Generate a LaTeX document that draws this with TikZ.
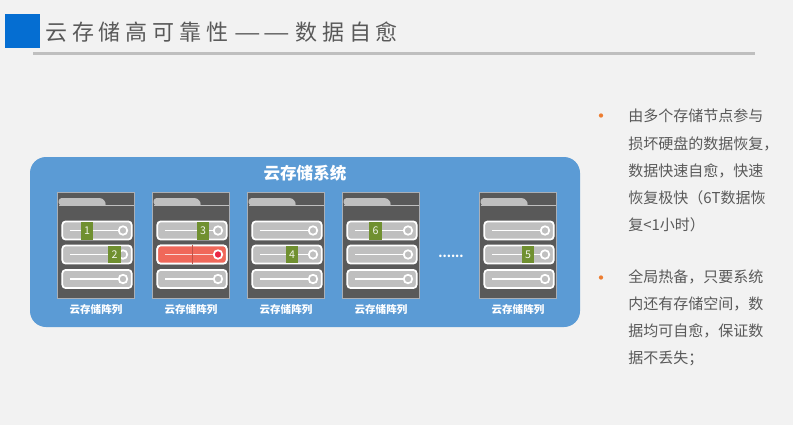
\documentclass[tikz,border=0pt]{standalone}
\usepackage{fontspec}
\usepackage{xcolor}
\setmainfont{Noto Sans CJK SC}
\usetikzlibrary{calc}
\definecolor{pagebg} {RGB}{242,242,242}
\definecolor{headblue}{RGB}{5,110,210}
\definecolor{rulegray}{RGB}{191,191,191}
\definecolor{sysblue} {RGB}{91,155,213}
\definecolor{bodydark}{RGB}{89,89,89}
\definecolor{rimgray} {RGB}{170,175,182}
\definecolor{slotgray}{RGB}{191,191,191}
\definecolor{badgegrn}{RGB}{112,144,48}
\definecolor{slotred} {RGB}{240,104,90}
\definecolor{ringred} {RGB}{235,40,70}
\definecolor{dotorng} {RGB}{237,125,49}
\definecolor{txtgray} {RGB}{89,89,89}
\newcommand{\cnc}{\symbol{"FF0C}}
\newcommand{\cnl}{\symbol{"FF08}}
\newcommand{\cnr}{\symbol{"FF09}}
\newcommand{\cns}{\symbol{"FF1B}}
\tikzset{
  arraybox/.style={draw=rimgray, fill=bodydark, line width=1.2pt, inner sep=0pt,
                   minimum width=57.5pt, minimum height=79.5pt},
  slotbox/.style={draw=white, fill=slotgray, line width=1.3pt, rounded corners=2.5pt,
                  inner sep=0pt, minimum width=52pt, minimum height=13.6pt},
  ringnode/.style={circle, draw=white, fill=slotgray, line width=1.3pt,
                   inner sep=0pt, minimum size=6.4pt},
  badge/.style={fill=badgegrn, text=white!90!badgegrn, inner sep=0pt,
                minimum width=9.4pt, minimum height=13.2pt, font=\fontsize{8}{8}\selectfont},
  arraylabel/.style={text=white, inner sep=0pt, font=\fontsize{7.9}{8}\selectfont\bfseries},
  bodytext/.style={text=txtgray, anchor=north west, align=left, inner sep=0pt,
                   font=\fontsize{11.25}{20.3}\selectfont},
  bulletdot/.style={circle, fill=dotorng, inner sep=0pt, minimum size=3.2pt},
}
\begin{document}
\begin{tikzpicture}[x=0.75pt, y=-0.75pt]
  \useasboundingbox (0,0) rectangle (793,425);
  \fill[pagebg] (0,0) rectangle (793,425);

  % header
  \node[fill=headblue, inner sep=0pt, minimum width=26.3pt, minimum height=25.5pt]
    (headsquare) at (22.5,31) {};
  \node[anchor=west, inner sep=0pt, text=txtgray] (headtitle) at (45,32)
    {\fontsize{16.5}{18}\selectfont\addfontfeature{LetterSpace=22}云存储高可靠性\hspace{5pt}\scalebox{1.35}[1]{—}\hspace{1.5pt}\scalebox{1.35}[1]{—}\hspace{4pt}数据自愈};
  \coordinate (rulestart) at (33,53.5);
  \coordinate (ruleend) at (755,53.5);
  \draw[rulegray, line width=1.6pt] (rulestart) -- (ruleend);

  % system panel
  \node[fill=sysblue, rounded corners=12pt, inner sep=0pt,
        minimum width=412.5pt, minimum height=127.5pt] (syspanel) at (305,242) {};
  \node[text=white, inner sep=0pt, font=\fontsize{12.4}{14}\selectfont\bfseries]
    (systitle) at (305,173) {云存储系统};

  % arrays
  \foreach \ax/\an in {57/a, 152/b, 247/c, 342/d, 479/e} {
    \node[arraybox] (\an) at (\ax+39,245.5) {};
    \fill[rulegray, rounded corners=2.5pt] (\ax+1.5,198) -- (\ax+46,198)
      -- (\ax+50,205.5) -- (\ax+1.5,205.5) -- cycle;
    \fill[rulegray] (\ax+1.5,204.5) rectangle (\ax+76.5,205.5);
    \foreach \ry/\rn in {230.5/1, 254.5/2, 279/3} {
      \node[slotbox] (\an-slot\rn) at (\ax+40,\ry) {};
      \node[ringnode] (\an-ring\rn) at (\ax+66,\ry) {};
      \coordinate (\an-line\rn) at (\ax+13,\ry);
      \draw[white, line width=0.8pt] (\an-line\rn) -- (\an-ring\rn);
    }
    \node[arraylabel] (\an-label) at (\ax+39,309.5) {云存储阵列};
  }

  % failed slot
  \node[slotbox, fill=slotred] (b-slot2) at (192,254.5) {};
  \node[ringnode, fill=ringred] (b-ring2) at (218,254.5) {};
  \coordinate (b-line2) at (165,254.5);
  \draw[white!75!slotred, line width=0.7pt] (b-line2) -- (b-ring2);
  \draw[slotred!80!black, line width=0.25pt] (b-slot2.north) -- (b-slot2.south);

  % blocks
  \node[badge] at (87,231) (block1) {1};
  \node[badge] at (114.5,254.5) (block2) {2};
  \node[badge] at (203,231) (block3) {3};
  \node[badge] at (292,254.5) (block4) {4};
  \node[badge] at (375.5,231) (block6) {6};
  \node[badge] at (528,254.5) (block5) {5};

  \node[text=white, inner sep=0pt, font=\fontsize{9}{9}\selectfont\bfseries]
    (moredots) at (451,256) {......};

  % right column
  \node[bulletdot] (dotone) at (601,115.5) {};
  \node[bodytext] (textone) at (628,109) {由多个存储节点参与\\损坏硬盘的数据恢复\cnc\\数据快速自愈\cnc 快速\\恢复极快\cnl 6T数据恢\\复<1小时\cnr};
  \node[bulletdot] (dottwo) at (601,277.5) {};
  \node[bodytext] (texttwo) at (628,269) {全局热备\cnc 只要系统\\内还有存储空间\cnc 数\\据均可自愈\cnc 保证数\\据不丢失\cns};
\end{tikzpicture}
\end{document}
